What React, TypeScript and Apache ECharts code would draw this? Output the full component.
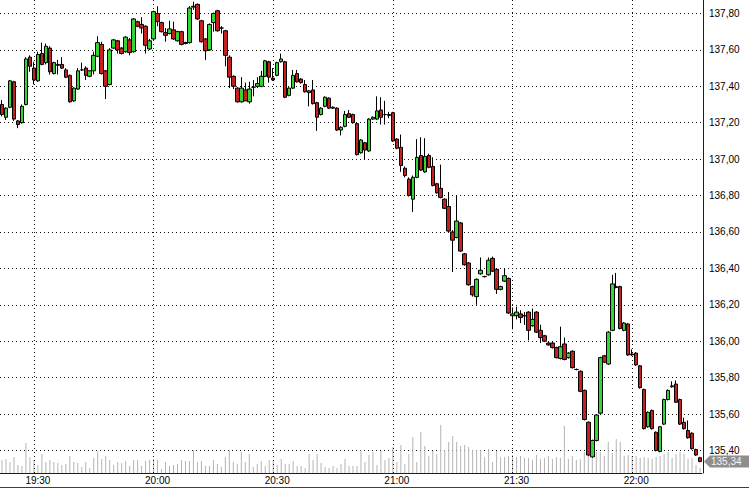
import { useEffect, useRef } from "react";
import * as echarts from "echarts";

// 1-minute candles starting 19:22
const START_MINUTE = 19 * 60 + 22;

const opens = [
  137.30, 137.23, 137.285, 137.425, 137.21, 137.20, 137.30, 137.56, 137.50, 137.43,
  137.58, 137.53, 137.61, 137.47, 137.52, 137.52, 137.49, 137.46, 137.32, 137.385,
  137.49, 137.50, 137.455, 137.485, 137.565, 137.63, 137.485, 137.41, 137.61, 137.65,
  137.61, 137.59, 137.655, 137.59, 137.755, 137.74, 137.73, 137.605, 137.66, 137.80,
  137.75, 137.695, 137.69, 137.71, 137.65, 137.70, 137.635, 137.64, 137.84, 137.85,
  137.76, 137.66, 137.60, 137.75, 137.815, 137.72, 137.705, 137.56, 137.455, 137.39,
  137.315, 137.38, 137.315, 137.395, 137.40, 137.40, 137.455, 137.535, 137.445, 137.46,
  137.535, 137.535, 137.35, 137.39, 137.47, 137.44, 137.41, 137.365, 137.38, 137.31,
  137.245, 137.29, 137.335, 137.285, 137.28, 137.16, 137.18, 137.25, 137.245, 137.195,
  137.035, 137.09, 137.045, 137.22, 137.22, 137.27, 137.245, 137.245, 137.255, 137.11,
  137.065, 136.95, 136.89, 136.78, 136.90, 137.02, 136.93, 137.02, 136.96, 136.865,
  136.84, 136.78, 136.74, 136.60, 136.57, 136.65, 136.48, 136.43, 136.30, 136.245,
  136.37, 136.355, 136.365, 136.455, 136.395, 136.285, 136.33, 136.345, 136.14, 136.14,
  136.15, 136.14, 136.16, 136.085, 136.16, 136.06, 136.03, 135.99, 135.99, 135.965,
  135.905, 135.985, 135.91, 135.945, 135.845, 135.835, 135.73, 135.555, 135.365, 135.455,
  135.605, 135.92, 135.875, 136.06, 136.30, 136.30, 136.06, 136.095, 135.93, 135.935,
  135.865, 135.735, 135.53, 135.62, 135.50, 135.395, 135.545, 135.68, 135.75, 135.765,
  135.68, 135.555, 135.51, 135.495, 135.405, 135.36,
];

const closes = [
  137.245, 137.28, 137.43, 137.22, 137.19, 137.29, 137.55, 137.51, 137.435, 137.575,
  137.52, 137.62, 137.48, 137.53, 137.515, 137.50, 137.45, 137.315, 137.39, 137.485,
  137.49, 137.46, 137.485, 137.57, 137.64, 137.47, 137.40, 137.60, 137.655, 137.60,
  137.58, 137.67, 137.585, 137.77, 137.73, 137.72, 137.625, 137.65, 137.81, 137.755,
  137.70, 137.68, 137.715, 137.66, 137.70, 137.63, 137.64, 137.83, 137.835, 137.77,
  137.645, 137.595, 137.74, 137.80, 137.705, 137.72, 137.57, 137.45, 137.40, 137.315,
  137.39, 137.32, 137.385, 137.395, 137.415, 137.455, 137.54, 137.45, 137.435, 137.53,
  137.55, 137.34, 137.39, 137.46, 137.425, 137.42, 137.37, 137.375, 137.305, 137.23,
  137.28, 137.34, 137.28, 137.28, 137.16, 137.175, 137.245, 137.23, 137.20, 137.025,
  137.105, 137.05, 137.22, 137.23, 137.265, 137.23, 137.245, 137.24, 137.10, 137.06,
  136.965, 136.91, 136.80, 136.90, 137.01, 136.94, 137.015, 136.955, 136.855, 136.815,
  136.79, 136.73, 136.605, 136.555, 136.66, 136.495, 136.42, 136.31, 136.255, 136.34,
  136.39, 136.355, 136.445, 136.385, 136.285, 136.30, 136.36, 136.155, 136.15, 136.16,
  136.13, 136.14, 136.06, 136.12, 136.05, 136.02, 136.00, 135.98, 135.965, 135.91,
  135.97, 135.90, 135.935, 135.855, 135.845, 135.725, 135.57, 135.375, 135.455, 135.595,
  135.91, 135.885, 136.05, 136.315, 136.295, 136.07, 136.10, 135.925, 135.925, 135.87,
  135.745, 135.52, 135.61, 135.52, 135.40, 135.53, 135.68, 135.73, 135.755, 135.665,
  135.545, 135.52, 135.47, 135.41, 135.375, 135.34,
];

const lows = [
  137.235, 137.215, 137.28, 137.21, 137.17, 137.195, 137.295, 137.48, 137.41, 137.425,
  137.515, 137.52, 137.465, 137.465, 137.465, 137.495, 137.445, 137.31, 137.315, 137.38,
  137.485, 137.435, 137.45, 137.465, 137.56, 137.465, 137.33, 137.405, 137.605, 137.58,
  137.575, 137.585, 137.57, 137.585, 137.725, 137.69, 137.58, 137.60, 137.655, 137.73,
  137.695, 137.645, 137.685, 137.655, 137.645, 137.625, 137.63, 137.635, 137.82, 137.765,
  137.64, 137.545, 137.595, 137.70, 137.70, 137.69, 137.51, 137.39, 137.385, 137.31,
  137.31, 137.32, 137.305, 137.345, 137.39, 137.395, 137.45, 137.42, 137.43, 137.455,
  137.53, 137.335, 137.345, 137.385, 137.42, 137.415, 137.365, 137.29, 137.30, 137.155,
  137.24, 137.285, 137.275, 137.275, 137.155, 137.13, 137.175, 137.225, 137.195, 137.02,
  137.03, 136.995, 137.04, 137.215, 137.215, 137.19, 137.19, 137.225, 137.095, 137.055,
  136.93, 136.90, 136.795, 136.71, 136.895, 136.935, 136.925, 136.95, 136.85, 136.81,
  136.785, 136.725, 136.60, 136.38, 136.565, 136.49, 136.415, 136.305, 136.245, 136.20,
  136.365, 136.35, 136.36, 136.38, 136.26, 136.28, 136.325, 136.15, 136.065, 136.12,
  136.10, 136.09, 136.005, 136.08, 136.045, 135.99, 135.995, 135.975, 135.96, 135.905,
  135.90, 135.895, 135.905, 135.85, 135.84, 135.72, 135.565, 135.37, 135.36, 135.45,
  135.60, 135.88, 135.87, 136.055, 136.29, 136.065, 136.055, 135.92, 135.92, 135.865,
  135.74, 135.515, 135.525, 135.515, 135.395, 135.39, 135.54, 135.675, 135.745, 135.66,
  135.54, 135.515, 135.465, 135.405, 135.37, 135.335,
];

const highs = [
  137.325, 137.285, 137.435, 137.43, 137.215, 137.30, 137.56, 137.57, 137.535, 137.59,
  137.64, 137.635, 137.62, 137.535, 137.545, 137.56, 137.50, 137.465, 137.395, 137.50,
  137.53, 137.51, 137.49, 137.59, 137.675, 137.645, 137.49, 137.61, 137.66, 137.655,
  137.615, 137.675, 137.665, 137.775, 137.76, 137.78, 137.735, 137.66, 137.815, 137.84,
  137.755, 137.72, 137.76, 137.755, 137.705, 137.705, 137.645, 137.84, 137.865, 137.855,
  137.765, 137.665, 137.745, 137.805, 137.82, 137.73, 137.71, 137.57, 137.46, 137.395,
  137.45, 137.42, 137.425, 137.435, 137.45, 137.485, 137.545, 137.54, 137.50, 137.535,
  137.58, 137.54, 137.395, 137.49, 137.49, 137.445, 137.435, 137.38, 137.435, 137.315,
  137.285, 137.345, 137.34, 137.29, 137.285, 137.18, 137.265, 137.27, 137.25, 137.20,
  137.11, 137.095, 137.225, 137.235, 137.345, 137.34, 137.32, 137.26, 137.26, 137.115,
  137.135, 136.96, 136.90, 136.91, 137.11, 137.12, 137.115, 137.03, 137.01, 136.87,
  136.97, 136.785, 136.82, 136.61, 136.80, 136.655, 136.485, 136.435, 136.305, 136.345,
  136.46, 136.36, 136.46, 136.465, 136.40, 136.305, 136.40, 136.35, 136.185, 136.19,
  136.17, 136.16, 136.165, 136.18, 136.165, 136.09, 136.035, 135.995, 135.995, 135.97,
  136.08, 136.02, 135.94, 135.95, 135.85, 135.84, 135.735, 135.56, 135.46, 135.60,
  135.915, 135.925, 136.055, 136.365, 136.375, 136.305, 136.105, 136.10, 135.955, 135.94,
  135.87, 135.74, 135.615, 135.625, 135.505, 135.535, 135.685, 135.735, 135.78, 135.785,
  135.685, 135.58, 135.565, 135.50, 135.41, 135.365,
];

const volumes = [
  13, 14, 11, 16, 8, 7, 30, 16, 13, 8, 19, 11, 13, 11, 10, 8, 9, 17, 11, 10,
  6, 11, 5, 15, 22, 14, 17, 13, 8, 11, 10, 12, 7, 13, 13, 7, 12, 13, 14, 13,
  4, 11, 7, 8, 9, 13, 12, 12, 23, 11, 12, 7, 7, 13, 9, 6, 16, 23, 11, 9,
  21, 11, 19,
  6, 9, 12, 7, 13, 13, 8, 14, 9, 9, 12, 7, 7, 5, 19, 13, 19, 10, 6, 5,
  7, 5, 9, 14, 7, 7, 7, 23, 11, 18, 21, 8, 22, 13, 15, 26, 11, 28, 9, 19,
  36, 11, 41, 27, 17, 22, 19, 48, 23, 31, 37, 31, 27, 28, 26, 23, 23, 23, 16, 24,
  11, 22,
  16,
  16, 17, 18, 16, 17, 15, 15, 13, 18, 14, 15, 17, 14, 16, 15, 47, 14, 17, 13, 14,
  21, 18, 15, 21, 21, 17, 31, 20, 34, 31, 17, 18, 17, 17, 15, 16, 15, 14, 16, 17,
  19, 21, 15, 19, 21, 19, 14, 15, 8, 5,
];

const times = opens.map((_, i) => {
  const m = START_MINUTE + i;
  return `${Math.floor(m / 60)}:${String(m % 60).padStart(2, "0")}`;
});

const gridTimes = ["19:30", "20:00", "20:30", "21:00", "21:30", "22:00"];

const PRICE_MIN = 135.2;
const PRICE_MAX = 137.874;
const PRICE_STEP = 0.2;
const VOLUME_MAX = 473;

const FONT = '"Liberation Sans", Arial, sans-serif';
const AXIS_NAVY = "#14146a";
const DOTS: number[] = [1, 3];

export default function App() {
  const ref = useRef<HTMLDivElement>(null);

  useEffect(() => {
    if (!ref.current) return;
    const chart = echarts.init(ref.current, undefined, { renderer: "svg" });
    const candles = opens.map((o, i) => [o, closes[i], lows[i], highs[i]]);

    chart.setOption({
      animation: false,
      backgroundColor: "#ffffff",
      grid: [
        { left: 0, right: 47, top: 0, bottom: 1.083 },
        { left: 0, right: 47, top: 0, bottom: 15 },
      ],
      xAxis: [
        {
          type: "category",
          gridIndex: 0,
          data: times,
          show: false,
        },
        {
          type: "category",
          gridIndex: 1,
          data: times,
          axisLine: { show: true, lineStyle: { color: AXIS_NAVY, width: 1 } },
          axisTick: { show: false },
          splitLine: { show: false },
          axisLabel: {
            interval: (_idx: number, value: string) =>
              value.endsWith(":00") || value.endsWith(":30"),
            color: "#000",
            fontSize: 10,
            fontFamily: FONT,
            margin: 2,
            padding: [0, 0, 0, 8],
          },
        },
      ],
      yAxis: [
        {
          type: "value",
          gridIndex: 0,
          position: "right",
          offset: 1,
          min: PRICE_MIN,
          max: PRICE_MAX,
          interval: PRICE_STEP,
          axisLine: { show: false },
          axisTick: { show: false },
          axisLabel: {
            color: "#000",
            fontSize: 10,
            fontFamily: FONT,
            margin: 6,
            formatter: (v: number) => {
              const k = Math.round(v / PRICE_STEP);
              if (Math.abs(v - k * PRICE_STEP) > 1e-6 || v < 135.3) return "";
              return v.toFixed(2).replace(".", ",");
            },
          },
          splitLine: {
            show: true,
            showMinLine: false,
            showMaxLine: false,
            lineStyle: { color: "#111", type: DOTS, width: 1 },
          },
        },
        {
          type: "value",
          gridIndex: 1,
          position: "right",
          offset: 1,
          min: 0,
          max: VOLUME_MAX,
          axisLine: { show: true, lineStyle: { color: AXIS_NAVY, width: 1 } },
          axisTick: { show: false },
          axisLabel: { show: false },
          splitLine: { show: false },
        },
      ],
      series: [
        {
          type: "bar",
          name: "Volume",
          xAxisIndex: 1,
          yAxisIndex: 1,
          data: volumes,
          barWidth: 1,
          z: 1,
          itemStyle: { color: "#b4b4b4" },
          markLine: {
            silent: true,
            symbol: ["none", "none"],
            label: { show: false },
            lineStyle: { color: "#111", type: DOTS, width: 1 },
            data: gridTimes.map((t) => ({ xAxis: t })),
          },
        },
        {
          type: "candlestick",
          name: "Price",
          xAxisIndex: 0,
          yAxisIndex: 0,
          data: candles,
          barWidth: 4,
          z: 5,
          itemStyle: {
            color: "#33d633",
            color0: "#c42020",
            borderColor: "#000",
            borderColor0: "#000",
            borderWidth: 1,
          },
        },
      ],
    });

    const last = closes[closes.length - 1];
    const y = chart.convertToPixel({ yAxisIndex: 0 }, last) as number;
    chart.setOption({
      graphic: [
        {
          type: "line",
          shape: { x1: 0, y1: 487.5, x2: 749, y2: 487.5 },
          style: { stroke: "#2c3f6e", lineWidth: 1 },
          silent: true,
        },
        {
          type: "polygon",
          shape: {
            points: [
              [704, y],
              [710, y - 6],
              [749, y - 6],
              [749, y + 6],
              [710, y + 6],
            ],
          },
          style: { fill: "#8e8e8e" },
          silent: true,
          z: 10,
        },
        {
          type: "text",
          x: 711,
          y: y,
          style: {
            text: last.toFixed(2).replace(".", ","),
            fill: "#f4f4f4",
            font: `10px ${FONT}`,
            verticalAlign: "middle",
          },
          silent: true,
          z: 11,
        },
      ],
    });

    return () => chart.dispose();
  }, []);

  return (
    <div
      ref={ref}
      style={{ position: "fixed", left: 0, top: 0, width: 749, height: 488 }}
    />
  );
}
